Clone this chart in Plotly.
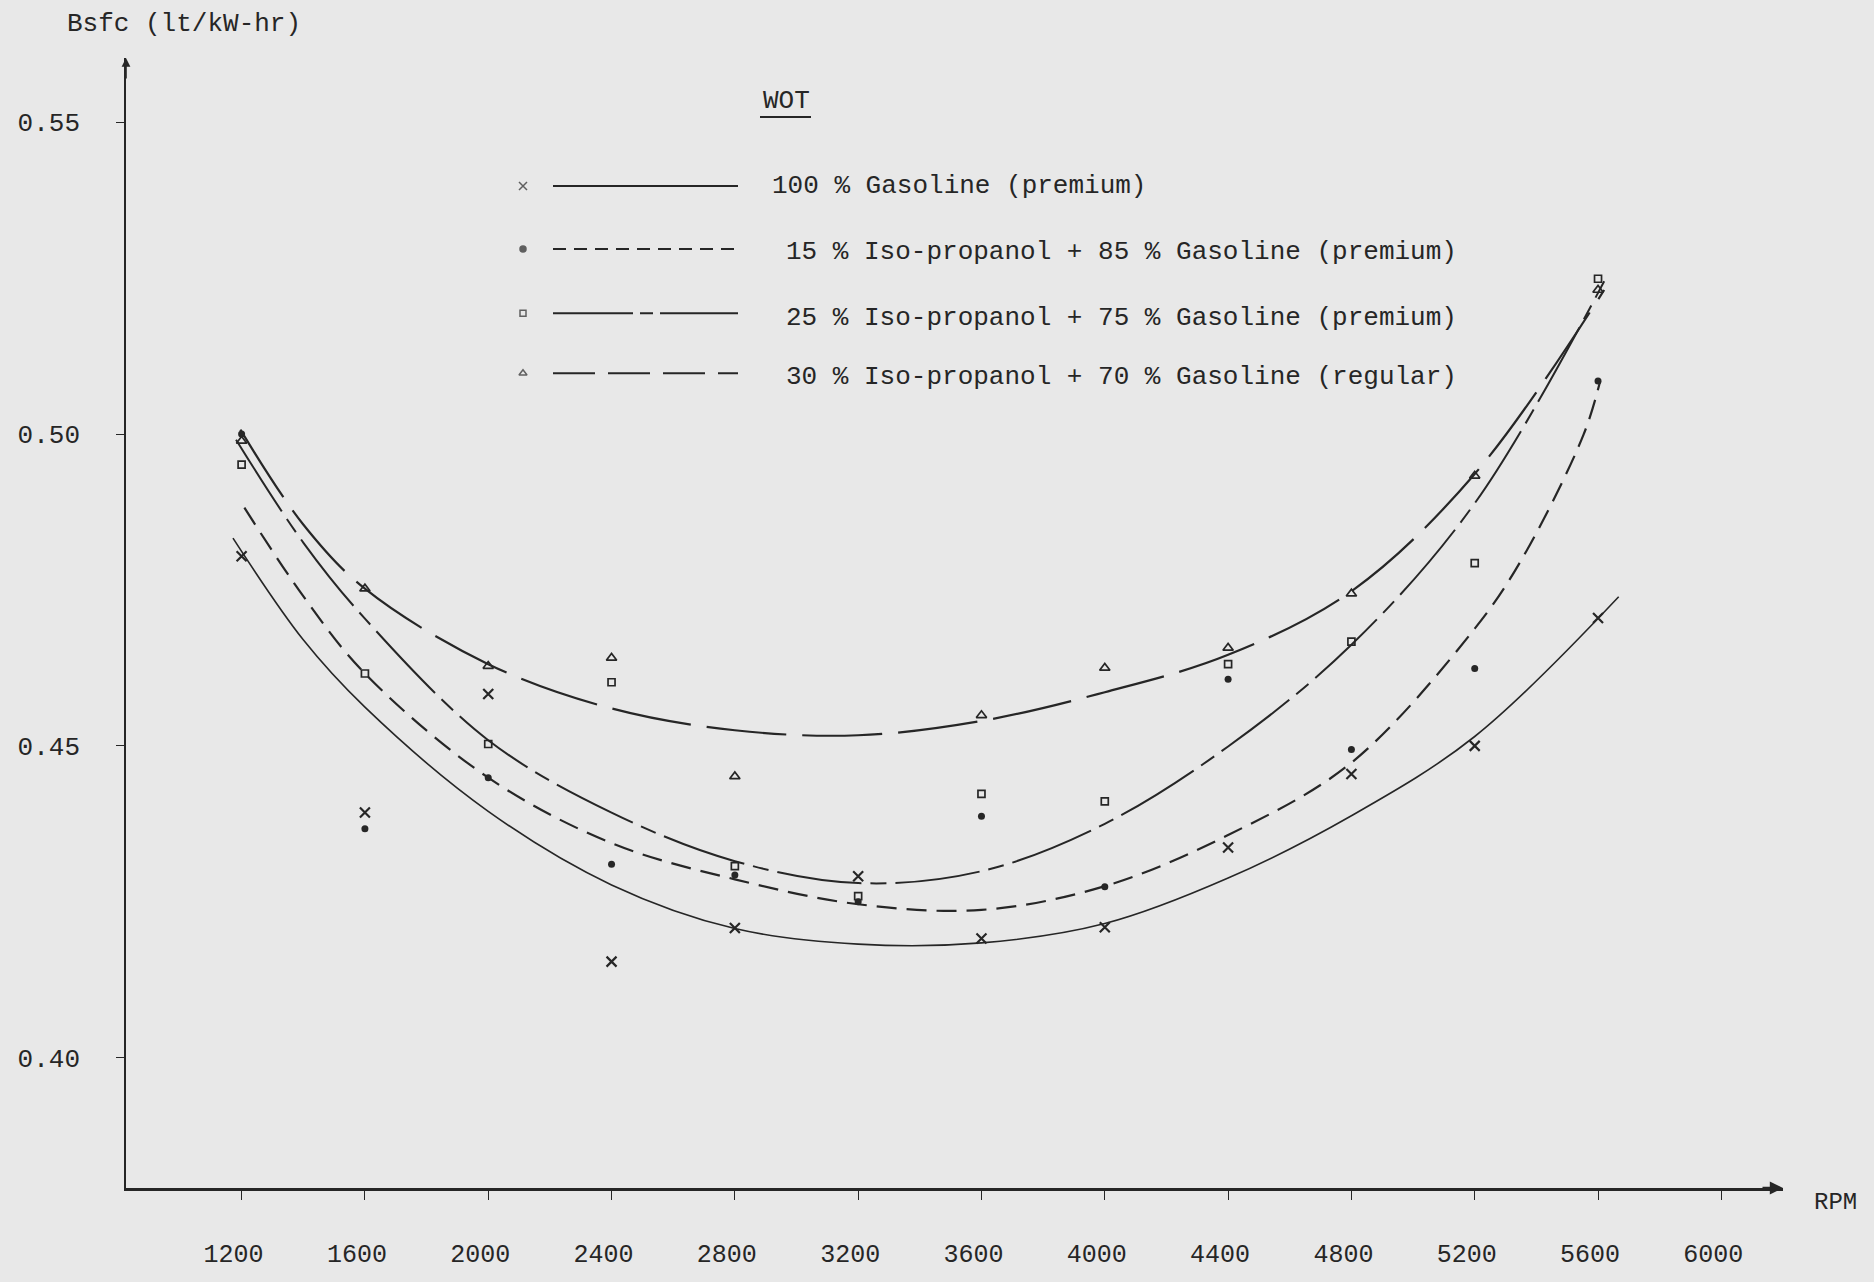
import plotly.graph_objects as go

# ---- axis ticks ----
rpm_ticks = [1200, 1600, 2000, 2400, 2800, 3200, 3600, 4000, 4400, 4800, 5200, 5600, 6000]
bsfc_ticks = [0.40, 0.45, 0.50, 0.55]

# ---- measured points (WOT) ----
test_rpm = [1200, 1600, 2000, 2400, 2800, 3200, 3600, 4000, 4400, 4800, 5200, 5600]
gas100_pts = [0.4804, 0.4393, 0.4583, 0.4154, 0.4208, 0.4291, 0.4191, 0.4209, 0.4337, 0.4455, 0.4500, 0.4705]
ipa15_pts = [0.5000, 0.4367, 0.4449, 0.4310, 0.4293, 0.4250, 0.4387, 0.4274, 0.4607, 0.4494, 0.4624, 0.5085]
ipa25_pts = [0.4951, 0.4616, 0.4503, 0.4602, 0.4307, 0.4259, 0.4423, 0.4411, 0.4631, 0.4667, 0.4793, 0.5249]
ipa30_pts = [0.4989, 0.4752, 0.4628, 0.4641, 0.4451, None, 0.4549, 0.4625, 0.4657, 0.4744, 0.4933, 0.5231]

# ---- fitted curves ----
gas100_fit_rpm = [1172, 1400, 1600, 2000, 2400, 2800, 3200, 3600, 4000, 4400, 4800, 5200, 5667]
gas100_fit = [0.4833, 0.4670, 0.4562, 0.4395, 0.4277, 0.4207, 0.4182, 0.4184, 0.4215, 0.4288, 0.4388, 0.4515, 0.4739]

ipa15_fit_rpm = [1209, 1400, 1600, 2000, 2400, 2800, 3200, 3600, 4000, 4400, 4800, 5200, 5350, 5553, 5607]
ipa15_fit = [0.4882, 0.4740, 0.4616, 0.4449, 0.4344, 0.4286, 0.4246, 0.4237, 0.4275, 0.4357, 0.4473, 0.4688, 0.4797, 0.4999, 0.5085]

ipa25_fit_rpm = [1182, 1400, 1600, 2000, 2400, 2800, 3200, 3600, 4000, 4400, 4800, 5200, 5620]
ipa25_fit = [0.4991, 0.4826, 0.4704, 0.4509, 0.4393, 0.4315, 0.4280, 0.4299, 0.4375, 0.4499, 0.4662, 0.4889, 0.5245]

ipa30_fit_rpm = [1196, 1400, 1600, 2000, 2400, 2800, 3200, 3600, 4000, 4400, 4800, 5200, 5620]
ipa30_fit = [0.5007, 0.4855, 0.4752, 0.4631, 0.4560, 0.4525, 0.4517, 0.4540, 0.4586, 0.4646, 0.4748, 0.4936, 0.5231]

series_names = [
    "100 % Gasoline (premium)",
    "15 % Iso-propanol + 85 % Gasoline (premium)",
    "25 % Iso-propanol + 75 % Gasoline (premium)",
    "30 % Iso-propanol + 70 % Gasoline (regular)",
]

INK = "#262626"
PAPER = "#e8e8e8"
FONT = "Liberation Mono, Courier New, monospace"

W, H = 1874, 1282
L, R, T, B = 126, 91, 58, 77
PW, PH = W - L - R, H - T - B


def px(x):
    return (x - L) / PW


def py(y):
    return (H - B - y) / PH


styles = [
    dict(dash="solid", width=1.6, symbol="x-thin", size=10, mline=2.2),
    dict(dash="20px,10px", width=2.2, symbol="circle", size=7, mline=0),
    dict(dash="85px,9px,16px,9px", width=2.0, symbol="square-open", size=7, mline=1.7),
    dict(dash="80px,16px", width=2.2, symbol="triangle-up-open", size=9, mline=1.7),
]
legend_dash = ["solid", "13px,8px", "80px,7px,13px,7px", "42px,13px"]

fits = [(gas100_fit_rpm, gas100_fit), (ipa15_fit_rpm, ipa15_fit),
        (ipa25_fit_rpm, ipa25_fit), (ipa30_fit_rpm, ipa30_fit)]
points = [gas100_pts, ipa15_pts, ipa25_pts, ipa30_pts]

fig = go.Figure()

for (fx, fy), st, name in zip(fits, styles, series_names):
    fig.add_trace(go.Scatter(
        x=fx, y=fy, mode="lines", name=name, showlegend=False,
        line=dict(color=INK, width=st["width"], dash=st["dash"], shape="spline", smoothing=1.0),
        hoverinfo="skip",
    ))

for pts, st, name in zip(points, styles, series_names):
    fig.add_trace(go.Scatter(
        x=test_rpm, y=pts, mode="markers", name=name, showlegend=False,
        marker=dict(symbol=st["symbol"], size=st["size"], color=INK,
                    line=dict(color=INK, width=st["mline"])),
    ))

# legend keys drawn on an overlay axis pair that spans the plot area (0..1)
key_rows_line = [188, 252, 317, 378]
key_rows_text = [188, 255, 322, 382]
fig.add_trace(go.Scatter(
    x=[px(523)] * 4, y=[py(v) for v in key_rows_line], mode="markers",
    xaxis="x2", yaxis="y2", showlegend=False, hoverinfo="skip",
    marker=dict(symbol=[s["symbol"] for s in styles], size=[8, 6, 6, 7], color=INK,
                line=dict(color=INK, width=1.5)),
))

shapes = []
annotations = []
for i, name in enumerate(series_names):
    shapes.append(dict(type="line", xref="paper", yref="paper",
                       x0=px(553), x1=px(738), y0=py(key_rows_line[i]), y1=py(key_rows_line[i]),
                       line=dict(color=INK, width=2, dash=legend_dash[i])))
    annotations.append(dict(xref="paper", yref="paper", x=px(770 if i == 0 else 784),
                            y=py(key_rows_text[i]), xanchor="left", yanchor="middle",
                            text=name, showarrow=False,
                            font=dict(family=FONT, size=26, color=INK)))

# WOT heading with underline
annotations.append(dict(xref="paper", yref="paper", x=px(786), y=py(102), text="WOT",
                        showarrow=False, xanchor="center", yanchor="middle",
                        font=dict(family=FONT, size=26, color=INK)))
shapes.append(dict(type="line", xref="paper", yref="paper", x0=px(760), x1=px(811),
                   y0=py(118), y1=py(118), line=dict(color=INK, width=2)))

# axis titles
annotations.append(dict(xref="paper", yref="paper", x=px(184), y=py(23), text="Bsfc (lt/kW-hr)",
                        showarrow=False, xanchor="center", yanchor="middle",
                        font=dict(family=FONT, size=26, color=INK)))
annotations.append(dict(xref="paper", yref="paper", x=px(1812), y=py(1220), text="RPM",
                        showarrow=False, xanchor="left", yanchor="middle",
                        font=dict(family=FONT, size=24, color=INK)))

# axis arrowheads
annotations.append(dict(xref="paper", yref="paper", x=1.0, y=0.0, text="", showarrow=True,
                        ax=-22, ay=0, arrowhead=2, arrowsize=1.1, arrowwidth=2.4, arrowcolor=INK))
annotations.append(dict(xref="paper", yref="paper", x=0.0, y=1.0, text="", showarrow=True,
                        ax=0, ay=22, arrowhead=2, arrowsize=1.1, arrowwidth=1.6, arrowcolor=INK))

fig.update_layout(
    width=W, height=H, autosize=False,
    margin=dict(l=L, r=R, t=T, b=B),
    paper_bgcolor=PAPER, plot_bgcolor=PAPER,
    showlegend=False,
    shapes=shapes, annotations=annotations,
    xaxis=dict(range=[825, 6200], tickvals=rpm_ticks, ticktext=[str(v) for v in rpm_ticks],
               showgrid=False, zeroline=False, showline=True, linecolor=INK, linewidth=2.6,
               ticks="outside", ticklen=9, tickwidth=1.2, tickcolor=INK,
               ticklabelstandoff=32, ticklabelshift=-8,
               tickfont=dict(family=FONT, size=25, color=INK)),
    yaxis=dict(range=[0.3791, 0.5603], tickvals=bsfc_ticks, tickformat=".2f",
               showgrid=False, zeroline=False, showline=True, linecolor=INK, linewidth=1.6,
               ticks="outside", ticklen=8, tickwidth=1.2, tickcolor=INK,
               ticklabelstandoff=31,
               tickfont=dict(family=FONT, size=26, color=INK)),
    xaxis2=dict(domain=[0, 1], range=[0, 1], visible=False, anchor="y2", overlaying="x"),
    yaxis2=dict(domain=[0, 1], range=[0, 1], visible=False, anchor="x2", overlaying="y"),
)

fig.write_html("out.html")
